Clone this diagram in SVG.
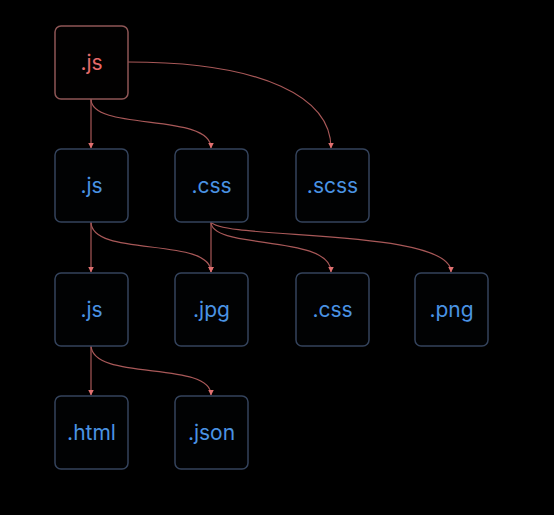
<svg xmlns="http://www.w3.org/2000/svg" width="554" height="515" viewBox="0 0 554 515">
<defs>
<style>
.box{fill:#010203;stroke:#34435c;stroke-width:1.5}
.root{fill:#020101;stroke:#8e5656;stroke-width:1.5}
.t{font-family:Inter,"Liberation Sans",sans-serif;font-size:21px;fill:#4a93e4;text-anchor:middle;dominant-baseline:central}
.rt{fill:#e56a6a}
.e{fill:none;stroke:#a85858;stroke-width:1.2;marker-end:url(#a)}
</style>
<marker id="a" viewBox="0 0 6 6" refX="5.5" refY="3" markerWidth="6" markerHeight="6" markerUnits="userSpaceOnUse" orient="auto">
<path d="M0,0 L6,3 L0,6 Z" fill="#e07070"/>
</marker>
</defs>
<rect width="554" height="515" fill="#000"/>
<g id="connectors">
<path class="e" d="M91,99 L91,148"/>
<path class="e" d="M91,99 C91,132 211,112 211,148"/>
<path class="e" d="M128,62 C265,62 331,98 331,148"/>
<path class="e" d="M91,222 L91,272"/>
<path class="e" d="M91,222 C91,258 211,236 211,272"/>
<path class="e" d="M211,222 L211,272"/>
<path class="e" d="M211,222 C211,250 331,234 331,272"/>
<path class="e" d="M211,222 C222,240 451,228 451,272"/>
<path class="e" d="M91,345 L91,395"/>
<path class="e" d="M91,345 C91,382 211,360 211,395"/>
</g>
<g id="n0"><rect class="root" x="55" y="26" width="73" height="73" rx="6"/><text class="t rt" x="91.5" y="62">.js</text></g>
<g id="n1"><rect class="box" x="55" y="149" width="73" height="73" rx="6"/><text class="t" x="91.5" y="185.5">.js</text></g>
<g id="n2"><rect class="box" x="175" y="149" width="73" height="73" rx="6"/><text class="t" x="211.5" y="185.5">.css</text></g>
<g id="n3"><rect class="box" x="296" y="149" width="73" height="73" rx="6"/><text class="t" x="332.5" y="185.5">.scss</text></g>
<g id="n4"><rect class="box" x="55" y="273" width="73" height="73" rx="6"/><text class="t" x="91.5" y="309.5">.js</text></g>
<g id="n5"><rect class="box" x="175" y="273" width="73" height="73" rx="6"/><text class="t" x="211.5" y="309.5">.jpg</text></g>
<g id="n6"><rect class="box" x="296" y="273" width="73" height="73" rx="6"/><text class="t" x="332.5" y="309.5">.css</text></g>
<g id="n7"><rect class="box" x="415" y="273" width="73" height="73" rx="6"/><text class="t" x="451.5" y="309.5">.png</text></g>
<g id="n8"><rect class="box" x="55" y="396" width="73" height="73" rx="6"/><text class="t" x="91.5" y="432.5">.html</text></g>
<g id="n9"><rect class="box" x="175" y="396" width="73" height="73" rx="6"/><text class="t" x="211.5" y="432.5">.json</text></g>
</svg>
